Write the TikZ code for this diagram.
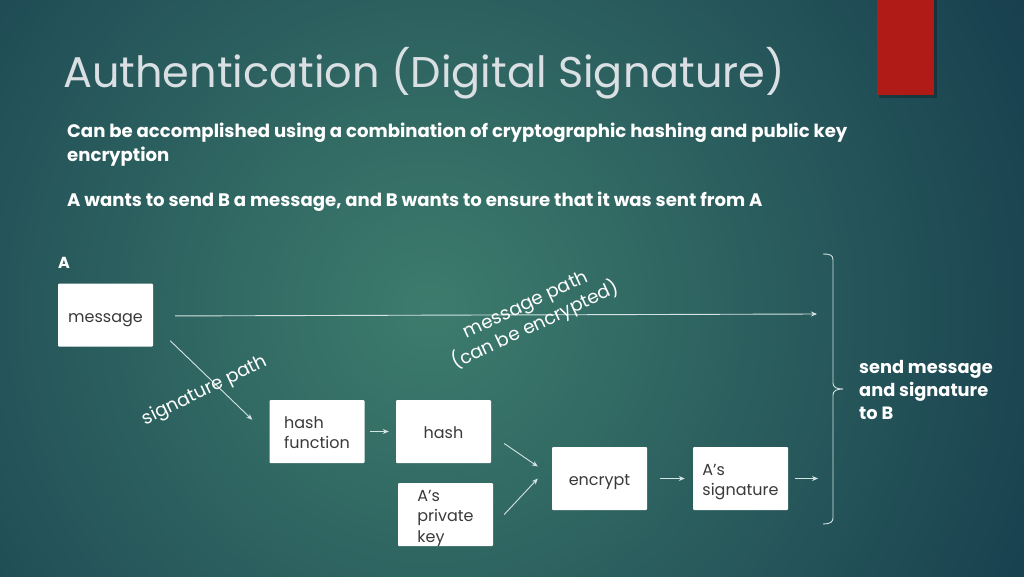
\documentclass[tikz,border=0pt]{standalone}
\usepackage{fontspec}
\setmainfont{Poppins}
\usetikzlibrary{arrows.meta}
\definecolor{bgin}{HTML}{3D7C6D}
\definecolor{bgout}{HTML}{12364A}
\definecolor{ttl}{HTML}{D9DFE2}
\definecolor{redbar}{HTML}{B01A17}
\definecolor{boxtxt}{HTML}{3A3A3A}
\definecolor{ln}{HTML}{D5E3E3}
\newcommand\bxt[1]{\raisebox{-3pt}[\height][\depth]{\begin{tabular}{@{}l@{}}#1\end{tabular}}}
\begin{document}
\begin{tikzpicture}[x=1pt,y=-1pt,
 box/.style={draw=none,fill=white,rounded corners=1pt,minimum width=95pt,minimum height=63pt,inner sep=0pt,text=boxtxt,font=\fontsize{16}{20.5}\selectfont},
 arr/.style={draw=ln,line width=0.9pt,-{Stealth[length=6pt,width=5pt]}},
 lbl/.style={text=white,font=\fontsize{18.5}{23}\selectfont,align=center,inner sep=0pt},
 body/.style={text=white,font=\bfseries\fontsize{18.1}{24}\selectfont,anchor=base west,align=left,inner sep=0pt}]
\useasboundingbox (0,0) rectangle (1024,576);
\begin{scope}
\clip (0,0) rectangle (1024,576);
\shade[inner color=bgin,outer color=bgout] (430,310) circle (770);
\fill[black,opacity=0.25] (879,0) rectangle (937,98);
\fill[redbar] (877,0) rectangle (934,95);
\end{scope}
\node[anchor=base west,inner sep=0pt,text=ttl,font=\fontsize{43}{50}\selectfont] (title) at (63,87) {Authentication (Digital Signature)};
\node[body] (intro) at (67,161) {Can be accomplished using a combination of cryptographic hashing and public key\\encryption};
\node[body] (want) at (67,206) {A wants to send B a message, and B wants to ensure that it was sent from A};
\node[body,font=\bfseries\fontsize{16}{24}\selectfont] (alabel) at (58,268) {A};
\node[box] (message) at (105.5,315) {\bxt{message}};
\node[box] (hashfn) at (317,431.5) {\bxt{hash\\function}};
\node[box] (hash) at (443.5,431.5) {\bxt{hash}};
\node[box] (key) at (445.5,514.5) {\bxt{A’s\\private\\key}};
\node[box] (encrypt) at (599.5,478.5) {\bxt{encrypt}};
\node[box] (sig) at (740.5,478.5) {\bxt{A’s\\signature}};
\coordinate (bin1) at (817,314);
\coordinate (bin2) at (818,478.5);
\draw[arr,shorten <=22pt] ([yshift=-1pt]message.east) -- (bin1);
\draw[arr] ([shift={(17,-6)}]message.south east) -- ([shift={(-17,20)}]hashfn.north west);
\draw[arr,shorten <=5pt,shorten >=7pt] (hashfn.east) -- (hash.west);
\draw[arr] ([shift={(13,12)}]hash.east) -- ([shift={(-14,-12)}]encrypt.west);
\draw[arr] ([shift={(11,0)}]key.east) -- ([shift={(-14,0)}]encrypt.west);
\draw[arr,shorten <=13pt,shorten >=8pt] (encrypt.east) -- (sig.west);
\draw[arr,shorten <=7pt] (sig.east) -- (bin2);
\draw[ln,line width=0.9pt] (823,254) .. controls (830,254) and (833,255) .. (833,260) -- (833,383) .. controls (833,387) and (836,389) .. (843,389) .. controls (836,389) and (833,391) .. (833,395) -- (833,518) .. controls (833,522) and (830,524) .. (823,524);
\node[body,font=\bfseries\fontsize{17.8}{23}\selectfont] (send) at (859,419) {send message\\and signature\\to B};
\node[lbl,rotate=25] (mplabel) at (531,316) {message path\\(can be encrypted)};
\node[lbl,rotate=26] (splabel) at (205,391) {signature path};
\end{tikzpicture}
\end{document}
